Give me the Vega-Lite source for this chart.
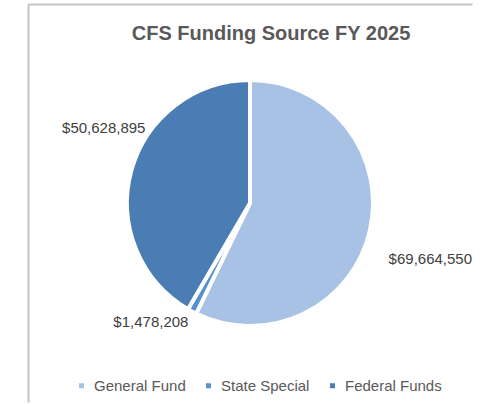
{
  "$schema": "https://vega.github.io/schema/vega-lite/v6.json",
  "width": 444,
  "height": 398,
  "autosize": "none",
  "padding": {"left": 28, "top": 4, "right": 15, "bottom": 2},
  "background": "white",
  "title": {
    "text": "CFS Funding Source FY 2025",
    "font": "Liberation Sans",
    "fontSize": 20,
    "fontWeight": "bold",
    "color": "#595959",
    "anchor": "middle",
    "frame": "group",
    "offset": -40,
    "dx": 21
  },
  "config": {"view": {"stroke": null}},
  "data": {
    "values": [
      {"source": "General Fund", "rank": 1, "amount": 69664550},
      {"source": "State Special", "rank": 2, "amount": 1478208},
      {"source": "Federal Funds", "rank": 3, "amount": 50628895}
    ]
  },
  "layer": [
    {
      "mark": {"type": "point", "opacity": 0},
      "encoding": {
        "x": {"datum": 0, "type": "quantitative", "scale": {"domain": [0, 1]},
          "axis": {"orient": "top", "domainColor": "#c4c4c4", "domainWidth": 2, "ticks": false, "labels": false, "grid": false, "title": null}},
        "y": {"datum": 0, "type": "quantitative", "scale": {"domain": [0, 1]},
          "axis": {"orient": "left", "domainColor": "#c4c4c4", "domainWidth": 2, "ticks": false, "labels": false, "grid": false, "title": null}}
      }
    },
    {
      "mark": {"type": "arc", "outerRadius": 123, "stroke": "white", "strokeWidth": 4},
      "encoding": {
        "theta": {"field": "amount", "type": "quantitative", "stack": true},
        "order": {"field": "rank", "type": "quantitative", "sort": "ascending"},
        "color": {
          "field": "source",
          "type": "nominal",
          "sort": ["General Fund", "State Special", "Federal Funds"],
          "scale": {"domain": ["General Fund", "State Special", "Federal Funds"], "range": ["#a8c2e5", "#5590cf", "#4a7db4"]},
          "legend": {
            "title": null,
            "orient": "none",
            "direction": "horizontal",
            "legendX": 46,
            "legendY": 374,
            "symbolType": "square",
            "symbolSize": 25,
            "symbolStrokeWidth": 0,
            "labelFont": "Liberation Sans",
            "labelFontSize": 15,
            "labelColor": "#595959",
            "labelOffset": 5,
            "columnPadding": 15,
            "labelLimit": 200
          }
        }
      }
    },
    {
      "mark": {"type": "text", "radius": 183, "dx": 2, "dy": 15, "font": "Liberation Sans", "fontSize": 15, "color": "#404040", "align": "center", "baseline": "middle"},
      "encoding": {
        "theta": {"field": "amount", "type": "quantitative", "stack": true},
        "order": {"field": "rank", "type": "quantitative", "sort": "ascending"},
        "text": {"condition": {"test": "datum.source === 'General Fund'", "field": "amount", "type": "quantitative", "format": "$,.0f"}, "value": ""}
      }
    },
    {
      "mark": {"type": "text", "radius": 155, "dx": -26, "dy": -18, "font": "Liberation Sans", "fontSize": 15, "color": "#404040", "align": "center", "baseline": "middle"},
      "encoding": {
        "theta": {"field": "amount", "type": "quantitative", "stack": true},
        "order": {"field": "rank", "type": "quantitative", "sort": "ascending"},
        "text": {"condition": {"test": "datum.source === 'State Special'", "field": "amount", "type": "quantitative", "format": "$,.0f"}, "value": ""}
      }
    },
    {
      "mark": {"type": "text", "radius": 165, "dx": 13, "dy": -32, "font": "Liberation Sans", "fontSize": 15, "color": "#404040", "align": "center", "baseline": "middle"},
      "encoding": {
        "theta": {"field": "amount", "type": "quantitative", "stack": true},
        "order": {"field": "rank", "type": "quantitative", "sort": "ascending"},
        "text": {"condition": {"test": "datum.source === 'Federal Funds'", "field": "amount", "type": "quantitative", "format": "$,.0f"}, "value": ""}
      }
    }
  ]
}
